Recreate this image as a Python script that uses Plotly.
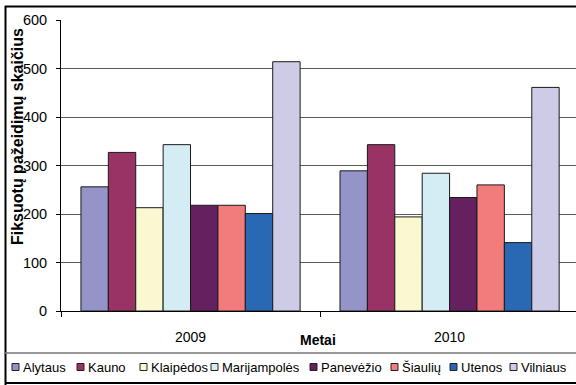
import plotly.graph_objects as go

years = ["2009", "2010"]
regions = ["Alytaus", "Kauno", "Klaipėdos", "Marijampolės", "Panevėžio", "Šiaulių", "Utenos", "Vilniaus"]
alytaus = [256, 289]
kauno = [327, 343]
klaipedos = [213, 194]
marijampoles = [343, 284]
panevezio = [218, 234]
siauliu = [218, 260]
utenos = [201, 141]
vilniaus = [514, 461]
series = [alytaus, kauno, klaipedos, marijampoles, panevezio, siauliu, utenos, vilniaus]

colors = ["#9494C8", "#993366", "#FAF8D0", "#D4ECF4", "#652060", "#F27C7C", "#2968B3", "#CECBE6"]

W, H = 576, 385
L, R, T, B = 61, 576, 20, 311


def px(x):
    return (x - L) / (R - L)


def py(y):
    return (B - y) / (B - T)


fig = go.Figure()
for name, vals, col in zip(regions, series, colors):
    fig.add_trace(go.Bar(
        x=years, y=vals, name=name,
        marker=dict(color=col, line=dict(color="#1a1a1a", width=1)),
        showlegend=False,
    ))

font_family = "Liberation Sans, Arial, sans-serif"

fig.update_layout(
    width=W, height=H,
    margin=dict(l=L, r=W - R, t=T, b=H - B, pad=0),
    paper_bgcolor="white", plot_bgcolor="white",
    barmode="group", bargap=0.154, bargroupgap=0,
    font=dict(family=font_family, color="black"),
)

fig.update_yaxes(
    range=[0, 600], dtick=100, showgrid=True, gridcolor="#5a5a5a", gridwidth=1,
    showline=True, linecolor="black", linewidth=1,
    ticks="outside", ticklen=4, tickcolor="black",
    tickfont=dict(size=14.5, color="black"), ticklabelstandoff=6,
    zeroline=False,
)
fig.update_xaxes(
    type="category", range=[-0.5, 1.488],
    showline=True, linecolor="black", linewidth=1,
    ticks="outside", tickson="boundaries", ticklen=5, tickcolor="black",
    tickfont=dict(size=14, color="black"), ticklabelstandoff=13,
    showgrid=False,
)

annotations = [
    dict(text="<b>Metai</b>", x=px(318), y=py(340), xref="paper", yref="paper",
         showarrow=False, xanchor="center", yanchor="middle",
         font=dict(size=14, color="black", family=font_family)),
    dict(text="<b>Fiksuotų pažeidimų skaičius</b>", x=px(17), y=py(137), xref="paper", yref="paper",
         showarrow=False, xanchor="center", yanchor="middle", textangle=-90,
         font=dict(size=16, color="black", family=font_family)),
]

shapes = [
    # outer frame
    dict(type="line", xref="paper", yref="paper", x0=px(5), x1=px(580), y0=py(6.5), y1=py(6.5),
         line=dict(color="black", width=2)),
    dict(type="line", xref="paper", yref="paper", x0=px(5.5), x1=px(5.5), y0=py(6), y1=py(385),
         line=dict(color="black", width=2)),
    # legend box
    dict(type="line", xref="paper", yref="paper", x0=px(5), x1=px(580), y0=py(353), y1=py(353),
         line=dict(color="#777777", width=1.5)),
    dict(type="line", xref="paper", yref="paper", x0=px(5), x1=px(580), y0=py(383), y1=py(383),
         line=dict(color="black", width=2)),
]

legend_sq_x = [12, 77, 140, 211, 310, 391, 450, 510]
leg_y = 367
for name, col, sx in zip(regions, colors, legend_sq_x):
    shapes.append(dict(type="rect", xref="paper", yref="paper",
                       x0=px(sx), x1=px(sx + 7), y0=py(leg_y - 3.5), y1=py(leg_y + 3.5),
                       fillcolor=col, line=dict(color="#222222", width=1)))
    annotations.append(dict(text=name, x=px(sx + 9), y=py(leg_y), xref="paper", yref="paper",
                            showarrow=False, xanchor="left", yanchor="middle",
                            font=dict(size=13, color="black", family=font_family)))

fig.update_layout(annotations=annotations, shapes=shapes)

fig.write_html("out.html", config={"displayModeBar": False},
               post_script="document.body.style.margin='0';")
